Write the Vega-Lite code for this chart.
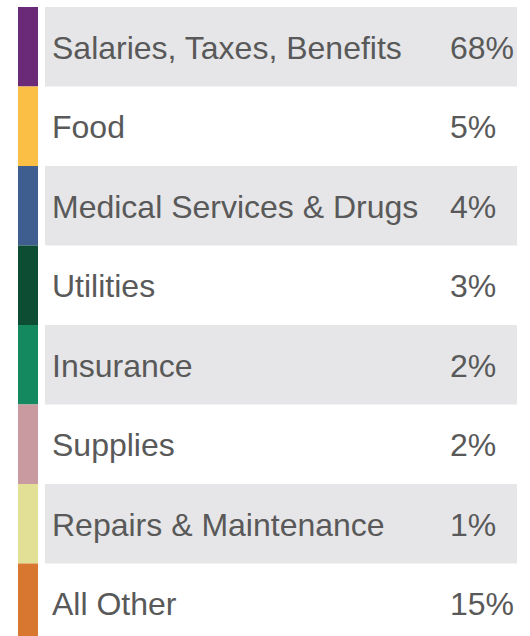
{
  "$schema": "https://vega.github.io/schema/vega-lite/v6.json",
  "width": 530,
  "height": 636,
  "padding": {"top": 7, "left": 0, "right": 0, "bottom": 0},
  "autosize": {"type": "none"},
  "background": "white",
  "config": {"view": {"stroke": null}},
  "data": {
    "values": [
      {"order": 1, "category": "Salaries, Taxes, Benefits", "pct": "68%"},
      {"order": 2, "category": "Food", "pct": "5%"},
      {"order": 3, "category": "Medical Services & Drugs", "pct": "4%"},
      {"order": 4, "category": "Utilities", "pct": "3%"},
      {"order": 5, "category": "Insurance", "pct": "2%"},
      {"order": 6, "category": "Supplies", "pct": "2%"},
      {"order": 7, "category": "Repairs & Maintenance", "pct": "1%"},
      {"order": 8, "category": "All Other", "pct": "15%"}
    ]
  },
  "encoding": {
    "y": {
      "field": "category",
      "type": "nominal",
      "sort": {"field": "order"},
      "scale": {"paddingInner": 0, "paddingOuter": 0},
      "axis": null
    }
  },
  "layer": [
    {
      "transform": [{"filter": "datum.order % 2 == 1"}],
      "mark": {"type": "bar", "color": "#E6E6E8", "x": 45, "x2": 517},
      "encoding": {}
    },
    {
      "mark": {"type": "bar", "x": 18, "x2": 38},
      "encoding": {
        "color": {
          "field": "category",
          "type": "nominal",
          "sort": {"field": "order"},
          "scale": {
            "domain": ["Salaries, Taxes, Benefits", "Food", "Medical Services & Drugs", "Utilities", "Insurance", "Supplies", "Repairs & Maintenance", "All Other"],
            "range": ["#6B2A78", "#FBBF45", "#3E5E90", "#0C4D33", "#14895F", "#C99A9F", "#E2DF96", "#D87830"]
          },
          "legend": null
        }
      }
    },
    {
      "mark": {"type": "text", "x": 52, "dy": 2, "align": "left", "baseline": "middle", "font": "Arimo, Liberation Sans, Arial, sans-serif", "fontSize": 32, "color": "#595959"},
      "encoding": {"text": {"field": "category"}}
    },
    {
      "mark": {"type": "text", "x": 450, "dy": 2, "align": "left", "baseline": "middle", "font": "Arimo, Liberation Sans, Arial, sans-serif", "fontSize": 32, "color": "#595959"},
      "encoding": {"text": {"field": "pct"}}
    }
  ]
}
